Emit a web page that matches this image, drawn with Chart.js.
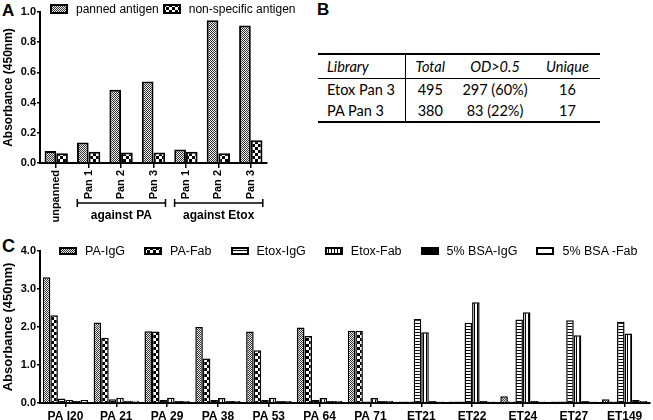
<!DOCTYPE html>
<html>
<head>
<meta charset="utf-8">
<script src="https://cdn.jsdelivr.net/npm/chart.js@4.4.0/dist/chart.umd.min.js"></script>
<style>
html,body{margin:0;padding:0;background:#fff;}
#wrap{position:relative;width:653px;height:420px;overflow:hidden;font-family:"Liberation Sans",Arial,sans-serif;color:#000;}
.plabel{position:absolute;font-weight:bold;line-height:1;}
#cA{position:absolute;left:0;top:0;}
#cC{position:absolute;left:0;top:230px;}
.legend{position:absolute;display:flex;align-items:center;white-space:nowrap;}
.legend .item{display:flex;align-items:center;}
.legend canvas{display:block;}
#tB{position:absolute;left:318px;top:53px;border-collapse:collapse;table-layout:fixed;font-family:Lato,"Open Sans",sans-serif;font-size:14.5px;}
#tB td{padding:0;text-align:center;white-space:nowrap;}
#tB tr.h td{height:23px;font-style:italic;border-bottom:1px solid #000;}
#tB tr.r td{height:21px;}
#tB{border-top:2px solid #000;border-bottom:2px solid #000;}
#tB td.c1{text-align:left;padding-left:9px;border-right:1px solid #000;}
</style>
</head>
<body>
<div id="wrap">
  <div class="plabel" style="left:2px;top:2px;font-size:17px;">A</div>
  <div class="plabel" style="left:317px;top:1px;font-size:17px;">B</div>
  <div class="plabel" style="left:2px;top:237px;font-size:18px;">C</div>
  <canvas id="cA" width="270" height="230"></canvas>
  <canvas id="cC" width="653" height="190"></canvas>
  <div class="legend" id="legA" style="left:50px;top:3px;height:12px;font-size:12px;"></div>
  <div class="legend" id="legC" style="left:59px;top:244px;height:13px;font-size:12.5px;"></div>
  <table id="tB">
    <colgroup><col style="width:87px"><col style="width:50px"><col style="width:80px"><col style="width:65px"></colgroup>
    <tbody id="tBody"></tbody>
  </table>
</div>
<script>
// ---------- Panel A data ----------
const categoriesA = ['unpanned','Pan 1','Pan 2','Pan 3','Pan 1','Pan 2','Pan 3'];
const groupLabelsA = ['against PA','against Etox'];
const groupRangesA = [[1,3],[4,6]];
const seriesNamesA = ['panned antigen','non-specific antigen'];
const pannedAntigen = [0.08, 0.135, 0.485, 0.54, 0.09, 0.945, 0.91];
const nonSpecificAntigen = [0.065, 0.075, 0.07, 0.07, 0.075, 0.065, 0.15];
const yTicksA = {min:0, max:1.0, step:0.2};

// ---------- Panel B data ----------
const tableHeaderB = ['Library','Total','OD>0.5','Unique'];
const librariesB = ['Etox Pan 3','PA Pan 3'];
const totalsB = [495, 380];
const odAboveB = ['297 (60%)','83 (22%)'];
const uniqueB = [16, 17];

// ---------- Panel C data ----------
const categoriesC = ['PA I20','PA 21','PA 29','PA 38','PA 53','PA 64','PA 71','ET21','ET22','ET24','ET27','ET149'];
const seriesNamesC = ['PA-IgG','PA-Fab','Etox-IgG','Etox-Fab','5% BSA-IgG','5% BSA -Fab'];
const paIgG   = [3.31, 2.12, 1.89, 2.00, 1.88, 1.99, 1.90, 0.04, 0.04, 0.18, 0.04, 0.10];
const paFab   = [2.31, 1.72, 1.88, 1.17, 1.39, 1.76, 1.90, 0.04, 0.04, 0.04, 0.04, 0.04];
const etoxIgG = [0.12, 0.10, 0.08, 0.08, 0.08, 0.08, 0.04, 2.21, 2.11, 2.20, 2.18, 2.14];
const etoxFab = [0.08, 0.14, 0.14, 0.13, 0.14, 0.13, 0.13, 1.86, 2.65, 2.39, 1.78, 1.83];
const bsaIgG  = [0.05, 0.06, 0.05, 0.05, 0.05, 0.05, 0.05, 0.05, 0.05, 0.05, 0.05, 0.08];
const bsaFab  = [0.08, 0.06, 0.05, 0.05, 0.05, 0.05, 0.05, 0.04, 0.04, 0.04, 0.04, 0.05];
const yTicksC = {min:0, max:4.0, step:1};

// ---------- styles ----------
function makePattern(type){
  if (type === 'solid') return '#000';
  if (type === 'white') return '#fff';
  const c = document.createElement('canvas');
  const x = c.getContext('2d');
  if (type === 'fine'){ c.width=2;c.height=2; x.fillStyle='#eee';x.fillRect(0,0,2,2); x.fillStyle='#333';x.fillRect(0,0,1,1);x.fillRect(1,1,1,1); }
  else if (type === 'check'){ c.width=6;c.height=6; x.fillStyle='#fff';x.fillRect(0,0,6,6); x.fillStyle='#000';x.fillRect(0,0,3,3);x.fillRect(3,3,3,3); }
  else if (type === 'hstripe'){ c.width=1;c.height=3; x.fillStyle='#fff';x.fillRect(0,0,1,3); x.fillStyle='#000';x.fillRect(0,0,1,1); }
  else if (type === 'vstripe'){ c.width=3;c.height=1; x.fillStyle='#fff';x.fillRect(0,0,3,1); x.fillStyle='#000';x.fillRect(0,0,1,1); }
  return x.createPattern(c,'repeat');
}
const patternsA = ['fine','check'];
const patternsC = ['fine','check','hstripe','vstripe','solid','white'];

Chart.defaults.font.family = '"Liberation Sans", Arial, sans-serif';
Chart.defaults.color = '#000';

function buildLegend(el, names, pats, w, h, gapBox, gapItem){
  names.forEach((n,i)=>{
    const it = document.createElement('div'); it.className='item';
    if (i>0) it.style.marginLeft = gapItem+'px';
    const cv = document.createElement('canvas'); cv.width=w; cv.height=h;
    const cx = cv.getContext('2d');
    cx.fillStyle = makePattern(pats[i]); cx.fillRect(0,0,w,h);
    cx.strokeStyle='#000'; cx.lineWidth=2; cx.strokeRect(1,1,w-2,h-2);
    cv.style.marginRight = gapBox+'px';
    const sp = document.createElement('span'); sp.textContent = n;
    it.appendChild(cv); it.appendChild(sp); el.appendChild(it);
  });
}
buildLegend(document.getElementById('legA'), seriesNamesA, patternsA, 18, 10, 8, 4);
buildLegend(document.getElementById('legC'), seriesNamesC, patternsC, 18, 8, 8, 19);

// table
(function(){
  const tb = document.getElementById('tBody');
  const hr = document.createElement('tr'); hr.className='h';
  tableHeaderB.forEach((t,i)=>{ const td=document.createElement('td'); td.textContent=t; if(i===0) td.className='c1'; hr.appendChild(td); });
  tb.appendChild(hr);
  librariesB.forEach((lib,i)=>{
    const tr = document.createElement('tr'); tr.className='r';
    [lib, totalsB[i], odAboveB[i], uniqueB[i]].forEach((v,j)=>{ const td=document.createElement('td'); td.textContent=v; if(j===0) td.className='c1'; tr.appendChild(td); });
    tb.appendChild(tr);
  });
})();

function yAxis(t, titleSize){
  return {
    min:t.min, max:t.max,
    ticks:{stepSize:t.step, font:{weight:'bold', size:11}, padding:1, callback:v=>Number(v).toFixed(1)},
    grid:{display:true, drawOnChartArea:false, tickLength:3, color:'#000', lineWidth:1.5},
    border:{display:true, color:'#000', width:2},
    title:{display:true, text:'Absorbance (450nm)', font:{weight:'bold', size:titleSize}, padding:{top:1,bottom:0}},
    afterFit(s){ s.width = 40; }
  };
}

const bracketPlugin = {
  id:'brackets',
  afterDraw(chart){
    const x = chart.scales.x, ctx = chart.ctx;
    const cw = x.getPixelForValue(1) - x.getPixelForValue(0);
    const yLine = chart.chartArea.bottom + 40;
    groupRangesA.forEach((r,i)=>{
      const x0 = x.getPixelForValue(r[0]) - 0.35*cw, x1 = x.getPixelForValue(r[1]) + 0.37*cw;
      ctx.save();
      ctx.strokeStyle='#000'; ctx.lineWidth=1.5;
      ctx.beginPath();
      ctx.moveTo(x0,yLine); ctx.lineTo(x1,yLine);
      ctx.moveTo(x0,yLine-4); ctx.lineTo(x0,yLine+4);
      ctx.moveTo(x1,yLine-4); ctx.lineTo(x1,yLine+4);
      ctx.stroke();
      ctx.fillStyle='#000';
      ctx.font='bold 12px "Liberation Sans", Arial, sans-serif';
      ctx.textAlign='center'; ctx.textBaseline='middle';
      ctx.fillText(groupLabelsA[i], (x0+x1)/2, yLine+13);
      ctx.restore();
    });
  }
};

new Chart(document.getElementById('cA'), {
  type:'bar',
  data:{
    labels: categoriesA,
    datasets:[pannedAntigen, nonSpecificAntigen].map((d,i)=>({
      label: seriesNamesA[i], data:d,
      backgroundColor: makePattern(patternsA[i]), borderColor:'#000', borderWidth:2,
      categoryPercentage:0.72, barPercentage:1
    }))
  },
  options:{
    responsive:false, animation:false,
    layout:{padding:{top:12, right:3, bottom:0, left:0}},
    plugins:{legend:{display:false}, tooltip:{enabled:false}},
    scales:{
      x:{
        offset:true,
        ticks:{font:{weight:'bold', size:11}, minRotation:90, maxRotation:90, autoSkip:false, padding:2},
        grid:{display:true, drawOnChartArea:false, offset:false, tickLength:5, color:'#000', lineWidth:1.5},
        border:{display:true, color:'#000', width:2},
        afterFit(s){ s.height = 67; }
      },
      y: yAxis(yTicksA, 12)
    }
  },
  plugins:[bracketPlugin]
});

new Chart(document.getElementById('cC'), {
  type:'bar',
  data:{
    labels: categoriesC,
    datasets:[paIgG, paFab, etoxIgG, etoxFab, bsaIgG, bsaFab].map((d,i)=>({
      label: seriesNamesC[i], data:d,
      backgroundColor: makePattern(patternsC[i]), borderColor:'#000', borderWidth:1.5,
      categoryPercentage:0.89, barPercentage:1
    }))
  },
  options:{
    responsive:false, animation:false,
    layout:{padding:{top:21, right:3, bottom:0, left:0}},
    plugins:{legend:{display:false}, tooltip:{enabled:false}},
    scales:{
      x:{
        offset:true,
        ticks:{font:{weight:'bold', size:12}, maxRotation:0, autoSkip:false, padding:2},
        grid:{display:true, drawOnChartArea:false, offset:false, tickLength:4, color:'#000', lineWidth:1.5},
        border:{display:true, color:'#000', width:2},
        afterFit(s){ s.height = 17; }
      },
      y: yAxis(yTicksC, 13)
    }
  }
});
</script>
</body>
</html>
